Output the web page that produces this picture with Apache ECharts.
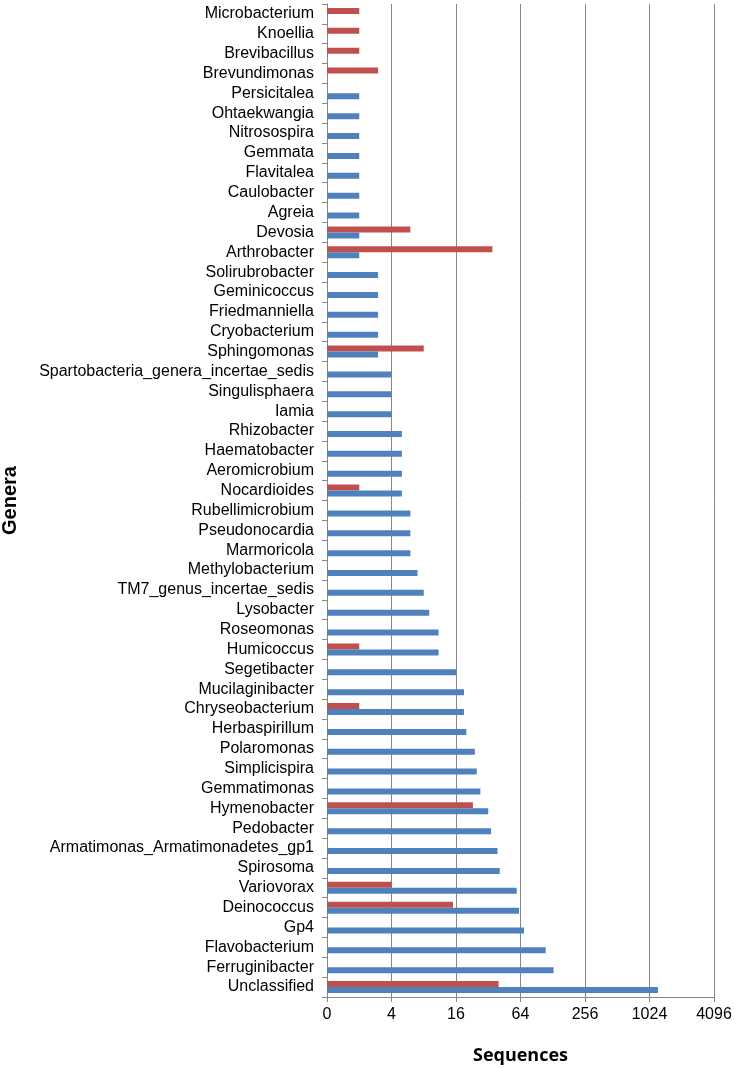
<!DOCTYPE html>
<html lang="en">

<head>
    <meta charset="UTF-8">
    <title>Genera sequences</title>
    <style>
        html, body { margin: 0; padding: 0; background: #fff; }
    </style>
</head>
<script src="https://cdn.jsdelivr.net/npm/echarts@6/dist/echarts.min.js"></script>

<body>
    <div id="main" style="width: 737px;height: 1068px;"></div>

    <script type="text/javascript">
        // genera, top to bottom as in the figure
        var genera = [
            'Microbacterium', 'Knoellia', 'Brevibacillus', 'Brevundimonas', 'Persicitalea',
            'Ohtaekwangia', 'Nitrosospira', 'Gemmata', 'Flavitalea', 'Caulobacter',
            'Agreia', 'Devosia', 'Arthrobacter', 'Solirubrobacter', 'Geminicoccus',
            'Friedmanniella', 'Cryobacterium', 'Sphingomonas', 'Spartobacteria_genera_incertae_sedis', 'Singulisphaera',
            'Iamia', 'Rhizobacter', 'Haematobacter', 'Aeromicrobium', 'Nocardioides',
            'Rubellimicrobium', 'Pseudonocardia', 'Marmoricola', 'Methylobacterium', 'TM7_genus_incertae_sedis',
            'Lysobacter', 'Roseomonas', 'Humicoccus', 'Segetibacter', 'Mucilaginibacter',
            'Chryseobacterium', 'Herbaspirillum', 'Polaromonas', 'Simplicispira', 'Gemmatimonas',
            'Hymenobacter', 'Pedobacter', 'Armatimonas_Armatimonadetes_gp1', 'Spirosoma', 'Variovorax',
            'Deinococcus', 'Gp4', 'Flavobacterium', 'Ferruginibacter', 'Unclassified'
        ];

        // blue series (null = no bar)
        var blueValues = [
            null, null, null, null, 2,
            2, 2, 2, 2, 2,
            2, 2, 2, 3, 3,
            3, 3, 3, 4, 4,
            4, 5, 5, 5, 5,
            6, 6, 6, 7, 8,
            9, 11, 11, 16, 19,
            19, 20, 24, 25, 27,
            32, 34, 39, 41, 59,
            62, 69, 110, 130, 1228
        ];

        // red series
        var redValues = [
            2, 2, 2, 3, null,
            null, null, null, null, null,
            null, 6, 35, null, null,
            null, null, 8, null, null,
            null, null, null, null, 2,
            null, null, null, null, null,
            null, null, 2, null, null,
            2, null, null, null, null,
            23, null, null, null, 4,
            15, null, null, null, 40
        ];

        var xTicks = [1, 4, 16, 64, 256, 1024, 4096];

        var myChart = echarts.init(document.getElementById('main'));
        var option = {
            animation: false,
            backgroundColor: '#ffffff',
            grid: {
                left: 327,
                right: 23,
                top: 4,
                bottom: 71,
                containLabel: false,
                outerBoundsMode: 'none'
            },
            xAxis: {
                type: 'log',
                logBase: 4,
                min: xTicks[0],
                max: xTicks[xTicks.length - 1],
                interval: 1,
                name: 'Sequences',
                nameLocation: 'middle',
                nameGap: 50,
                nameTextStyle: {
                    fontFamily: 'Open Sans',
                    fontWeight: 'bold',
                    fontSize: 18,
                    color: '#000'
                },
                axisLine: { show: true, lineStyle: { color: '#868686', width: 1 } },
                axisTick: { show: true, length: 5, lineStyle: { color: '#868686' } },
                axisLabel: {
                    margin: 10,
                    fontFamily: 'Liberation Sans',
                    fontSize: 16,
                    color: '#000',
                    formatter: function (v) {
                        return v === 1 ? '0' : String(Math.round(v));
                    }
                },
                splitLine: { show: true, lineStyle: { color: '#868686', width: 1 } }
            },
            yAxis: {
                type: 'category',
                inverse: true,
                data: genera,
                name: 'Genera',
                nameLocation: 'middle',
                nameRotate: 90,
                nameGap: 307,
                nameTextStyle: {
                    fontFamily: 'Liberation Sans',
                    fontWeight: 'bold',
                    fontSize: 20,
                    color: '#000'
                },
                axisLine: { show: true, lineStyle: { color: '#868686', width: 1 } },
                axisTick: { show: true, length: 5, lineStyle: { color: '#868686' } },
                axisLabel: {
                    margin: 13,
                    interval: 0,
                    fontFamily: 'Liberation Sans',
                    fontSize: 16,
                    color: '#000'
                },
                splitLine: { show: false }
            },
            series: [{
                name: 'red',
                type: 'bar',
                data: redValues,
                barWidth: 6,
                barGap: '0%',
                itemStyle: { color: '#C0504D' }
            }, {
                name: 'blue',
                type: 'bar',
                data: blueValues,
                barWidth: 6,
                barGap: '0%',
                itemStyle: { color: '#4F81BD' }
            }]
        };
        myChart.setOption(option);
    </script>
</body>

</html>
